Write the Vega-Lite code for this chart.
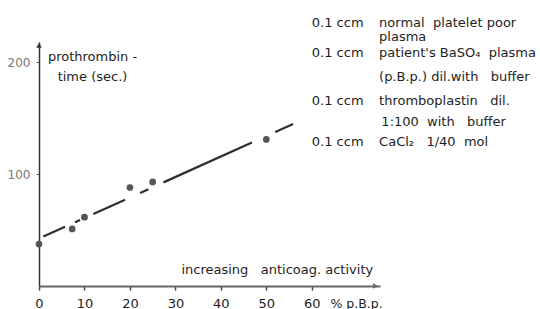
{
  "$schema": "https://vega.github.io/schema/vega-lite/v6.json",
  "width": 341,
  "height": 244,
  "autosize": {"type": "none"},
  "padding": {"left": 39, "top": 42, "right": 160, "bottom": 23},
  "background": "white",
  "config": {"view": {"stroke": null}, "font": "DejaVu Sans"},
  "datasets": {
    "fit": [{"pct": 0.95, "time": 44.2}, {"pct": 55.9, "time": 144.8}],
    "obs": [
      {"pct": 0, "time": 37.5},
      {"pct": 7.3, "time": 51},
      {"pct": 10, "time": 61.5},
      {"pct": 20, "time": 88},
      {"pct": 25, "time": 93},
      {"pct": 50, "time": 131}
    ],
    "ccm": [
      {"pct": 60, "time": 235.3, "label": "0.1 ccm"},
      {"pct": 60, "time": 208.2, "label": "0.1 ccm"},
      {"pct": 60, "time": 165.3, "label": "0.1 ccm"},
      {"pct": 60, "time": 128.7, "label": "0.1 ccm"}
    ],
    "desc": [
      {"pct": 74.8, "time": 235.3, "label": "normal\u00a0\u00a0platelet\u00a0poor"},
      {"pct": 74.8, "time": 222.5, "label": "plasma"},
      {"pct": 74.8, "time": 208.2, "label": "patient's\u00a0BaSO\u2084\u00a0\u00a0plasma"},
      {"pct": 74.8, "time": 186.8, "label": "(p.B.p.)\u00a0dil.with\u00a0\u00a0\u00a0buffer"},
      {"pct": 74.8, "time": 165.3, "label": "thromboplastin\u00a0\u00a0\u00a0dil."},
      {"pct": 75.3, "time": 146.6, "label": "1:100\u00a0\u00a0with\u00a0\u00a0\u00a0buffer"},
      {"pct": 74.8, "time": 128.7, "label": "CaCl\u2082\u00a0\u00a0\u00a01/40\u00a0\u00a0mol"}
    ],
    "note": [{"pct": 73.5, "time": 14.3, "label": "increasing\u00a0\u00a0\u00a0anticoag.\u00a0activity"}],
    "yhead": [{"pct": 0, "time": 215}],
    "xhead": [{"pct": 74, "time": 0}]
  },
  "layer": [
    {
      "data": {"name": "fit"},
      "mark": {"type": "line", "color": "#2e2e2e", "strokeWidth": 2.2, "strokeDash": [23.8, 11, 5.5, 14.6, 34.8, 16.5, 9.1, 16.5, 97, 25.6, 20.1, 200]},
      "encoding": {
        "x": {
          "field": "pct", "type": "quantitative",
          "scale": {"domain": [0, 75], "nice": false, "zero": false},
          "axis": {
            "values": [0, 10, 20, 30, 40, 50, 60],
            "grid": false,
            "tickSize": 4,
            "tickColor": "#444444",
            "tickWidth": 1.5,
            "domainColor": "#666666",
            "domainWidth": 2,
            "labelFontSize": 13,
            "labelColor": "#1e1e1e",
            "labelBaseline": "middle",
            "labelPadding": 13,
            "labelFlush": false,
            "title": "% p.B.p.",
            "titleFontSize": 12.5,
            "titleFontWeight": "normal",
            "titleColor": "#1e1e1e",
            "titleAlign": "left",
            "titleBaseline": "middle",
            "titleX": 291,
            "titleY": 17
          }
        },
        "y": {
          "field": "time", "type": "quantitative",
          "scale": {"domain": [0, 218], "nice": false, "zero": false},
          "axis": {
            "values": [100, 200],
            "grid": false,
            "tickSize": 3,
            "tickColor": "#555555",
            "domainColor": "#333333",
            "domainWidth": 1.5,
            "labelFontSize": 12,
            "labelColor": "#777777",
            "labelPadding": 6,
            "title": ["prothrombin -", "time (sec.)"],
            "titleAngle": 0,
            "titleAlign": "center",
            "titleBaseline": "middle",
            "titleFontSize": 13,
            "titleFontWeight": "normal",
            "titleColor": "#1e1e1e",
            "titleLineHeight": 20,
            "titleX": 53,
            "titleY": 14.7
          }
        }
      }
    },
    {
      "data": {"name": "obs"},
      "mark": {"type": "circle", "size": 45, "color": "#555555", "opacity": 1},
      "encoding": {
        "x": {"field": "pct", "type": "quantitative"},
        "y": {"field": "time", "type": "quantitative"}
      }
    },
    {
      "data": {"name": "yhead"},
      "mark": {"type": "point", "shape": "triangle-up", "size": 30, "filled": true, "color": "#333333", "opacity": 1},
      "encoding": {
        "x": {"field": "pct", "type": "quantitative"},
        "y": {"field": "time", "type": "quantitative"}
      }
    },
    {
      "data": {"name": "xhead"},
      "mark": {"type": "point", "shape": "triangle-right", "size": 30, "filled": true, "color": "#666666", "opacity": 1},
      "encoding": {
        "x": {"field": "pct", "type": "quantitative"},
        "y": {"field": "time", "type": "quantitative"}
      }
    },
    {
      "data": {"name": "ccm"},
      "mark": {"type": "text", "align": "left", "baseline": "middle", "fontSize": 13, "color": "#1e1e1e"},
      "encoding": {
        "x": {"field": "pct", "type": "quantitative"},
        "y": {"field": "time", "type": "quantitative"},
        "text": {"field": "label"}
      }
    },
    {
      "data": {"name": "desc"},
      "mark": {"type": "text", "align": "left", "baseline": "middle", "fontSize": 13, "color": "#1e1e1e"},
      "encoding": {
        "x": {"field": "pct", "type": "quantitative"},
        "y": {"field": "time", "type": "quantitative"},
        "text": {"field": "label"}
      }
    },
    {
      "data": {"name": "note"},
      "mark": {"type": "text", "align": "right", "baseline": "middle", "fontSize": 13, "color": "#1e1e1e"},
      "encoding": {
        "x": {"field": "pct", "type": "quantitative"},
        "y": {"field": "time", "type": "quantitative"},
        "text": {"field": "label"}
      }
    }
  ]
}
